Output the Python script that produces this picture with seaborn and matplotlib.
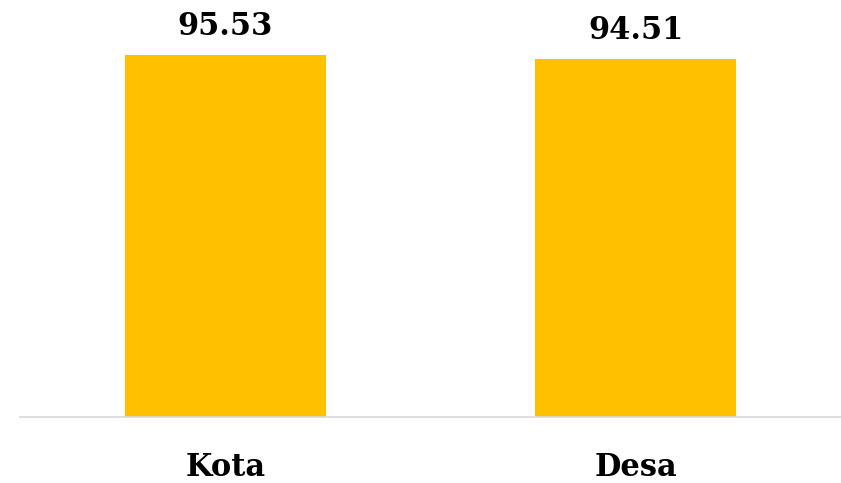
import matplotlib
matplotlib.use("Agg")
import matplotlib.pyplot as plt
import seaborn as sns
import pandas as pd

categories = ["Kota", "Desa"]
values = [95.53, 94.51]
value_labels = ["95.53", "94.51"]

df = pd.DataFrame({"cat": categories, "val": values})

sns.set_theme(style="white")
plt.rcParams["font.family"] = ["DejaVu Serif"]

fig = plt.figure(figsize=(8.41, 4.83), dpi=100)
ax = fig.add_axes([20/841, 66/483, 1 - 20/841, 1 - 66/483])
sns.barplot(data=df, x="cat", y="val", color="#FFC000", saturation=1, width=0.49,
            linewidth=0, edgecolor="none", ax=ax)
ax.set_xlim(-0.5, 1.5)
ax.set_ylim(0, 110.0)
for i, (v, lab) in enumerate(zip(values, value_labels)):
    ax.text(i, v + 3.4, lab, ha="center", va="bottom", fontsize=22, fontweight="bold", color="#000000")
for s in ["top", "right", "left"]:
    ax.spines[s].set_visible(False)
ax.spines["bottom"].set_color("#D9D9D9")
ax.spines["bottom"].set_linewidth(1.2)
ax.set_yticks([])
ax.set_xlabel("")
ax.set_ylabel("")
ax.tick_params(axis="x", length=0, pad=25, labelsize=22)
for t in ax.get_xticklabels():
    t.set_fontweight("bold")
    t.set_color("#000000")
fig.savefig("out.png", dpi=100)
